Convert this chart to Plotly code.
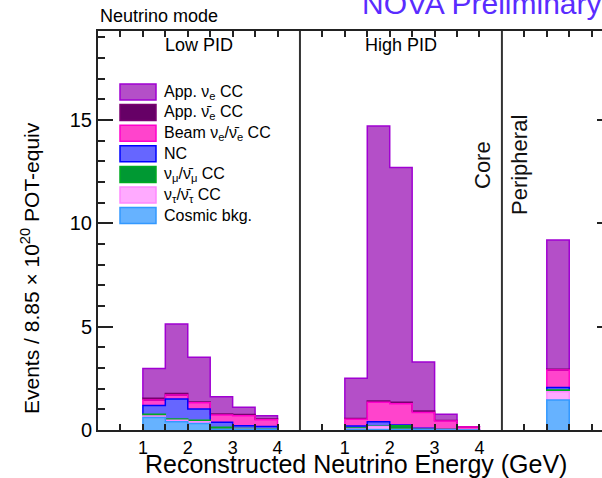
import plotly.graph_objects as go

# ---------------------------------------------------------------------------
# Binning (reconstructed energy, GeV) of each sample
# ---------------------------------------------------------------------------
low_edges = [1.0, 1.5, 2.0, 2.5, 3.0, 3.5, 4.0]
high_edges = [1.0, 1.5, 2.0, 2.5, 3.0, 3.5, 4.0]
periph_edges = [1.0, 1.5]

# offsets of the three samples on the concatenated horizontal axis
panel_offsets = [0.0, 4.5, 9.0]
panel_width = 4.5
x_max = 11.23
y_max = 19.3

# ---------------------------------------------------------------------------
# Predicted events per bin, one list per component (Low PID / High PID / Peripheral)
# ---------------------------------------------------------------------------
cosmic_low = [0.60, 0.40, 0.32, 0.02, 0.02, 0.02]
cosmic_high = [0.03, 0.02, 0.01, 0.01, 0.00, 0.00]
cosmic_periph = [1.45]

nutau_low = [0.08, 0.07, 0.08, 0.01, 0.02, 0.01]
nutau_high = [0.02, 0.14, 0.02, 0.01, 0.01, 0.00]
nutau_periph = [0.40]

numu_low = [0.08, 0.06, 0.07, 0.10, 0.03, 0.02]
numu_high = [0.05, 0.02, 0.17, 0.02, 0.01, 0.00]
numu_periph = [0.08]

nc_low = [0.42, 0.97, 0.55, 0.24, 0.14, 0.12]
nc_high = [0.09, 0.22, 0.04, 0.04, 0.01, 0.01]
nc_periph = [0.12]

beam_low = [0.27, 0.19, 0.30, 0.36, 0.48, 0.33]
beam_high = [0.33, 0.94, 1.03, 0.77, 0.41, 0.13]
beam_periph = [0.85]

anti_low = [0.08, 0.08, 0.04, 0.04, 0.06, 0.03]
anti_high = [0.04, 0.06, 0.07, 0.07, 0.02, 0.00]
anti_periph = [0.04]

app_low = [1.45, 3.36, 2.16, 0.84, 0.35, 0.16]
app_high = [1.94, 13.30, 11.36, 2.37, 0.30, 0.02]
app_periph = [6.25]

# stack order, bottom to top
stack = [
    ("Cosmic bkg.", "#66b2ff", "#3399ff", cosmic_low, cosmic_high, cosmic_periph),
    ("ν<sub>τ</sub>/ν̄<sub>τ</sub> CC", "#ffaaff", "#ff88ff", nutau_low, nutau_high, nutau_periph),
    ("ν<sub>μ</sub>/ν̄<sub>μ</sub> CC", "#009933", "#00aa22", numu_low, numu_high, numu_periph),
    ("NC", "#6666ff", "#0000ff", nc_low, nc_high, nc_periph),
    ("Beam ν<sub>e</sub>/ν̄<sub>e</sub> CC", "#ff44cc", "#ff00cc", beam_low, beam_high, beam_periph),
    ("App. ν̄<sub>e</sub> CC", "#660066", "#7a0070", anti_low, anti_high, anti_periph),
    ("App. ν<sub>e</sub> CC", "#b44fc8", "#a000d2", app_low, app_high, app_periph),
]

edges_per_panel = [low_edges, high_edges, periph_edges]

FONT = "Liberation Sans, Arial, Helvetica, sans-serif"

fig = go.Figure()

# cumulative heights of each layer, per panel
cum_bottom = [[0.0] * (len(e) - 1) for e in edges_per_panel]
layer_geom = []
for name, fill, edge, *panels in stack:
    xs, ys, bases = [], [], []
    tops_all = []
    for p, vals in enumerate(panels):
        edges = edges_per_panel[p]
        off = panel_offsets[p]
        for i, v in enumerate(vals):
            xs.append(off + 0.5 * (edges[i] + edges[i + 1]))
            ys.append(v)
            bases.append(cum_bottom[p][i])
        tops = [b + v for b, v in zip(cum_bottom[p], vals)]
        tops_all.append((list(cum_bottom[p]), tops))
        cum_bottom[p] = tops
    layer_geom.append((edge, tops_all))
    fig.add_trace(go.Bar(
        x=xs, y=ys, base=bases, width=0.5,
        marker=dict(color=fill, line=dict(width=0)),
        name=name, showlegend=False, hoverinfo="skip",
    ))

# step outlines: drawn from the top of the stack downwards so that
# lower components' edges stay visible
for edge, tops_all in reversed(layer_geom):
    lx, ly = [], []
    for p, (bots, tops) in enumerate(tops_all):
        edges = edges_per_panel[p]
        off = panel_offsets[p]
        lx.append(off + edges[0]); ly.append(bots[0])
        for i, t in enumerate(tops):
            lx += [off + edges[i], off + edges[i + 1]]
            ly += [t, t]
        lx.append(off + edges[-1]); ly.append(bots[-1])
        lx.append(None); ly.append(None)
    fig.add_trace(go.Scatter(
        x=lx, y=ly, mode="lines", line=dict(color=edge, width=1.5),
        showlegend=False, hoverinfo="skip", connectgaps=False,
    ))

# tick marks every 0.5 GeV inside each sample, labelled at whole GeV
tick_vals, tick_text = [], []
for p, off in enumerate(panel_offsets):
    e = 0.5
    while e < panel_width - 1e-6 and off + e < x_max:
        tick_vals.append(off + e)
        lab = ""
        if p < 2 and abs(e - round(e)) < 1e-6:
            lab = str(int(round(e)))
        tick_text.append(lab)
        e += 0.5

fig.update_layout(
    width=602, height=478,
    margin=dict(l=98, r=0, t=31, b=48),
    paper_bgcolor="white", plot_bgcolor="white",
    barmode="overlay", bargap=0,
    font=dict(family=FONT, color="black"),
    xaxis=dict(
        range=[0, x_max], tickvals=tick_vals, ticktext=tick_text,
        ticks="inside", ticklen=6, tickwidth=1.5, tickcolor="#222",
        showline=True, linewidth=2, linecolor="#222", mirror="ticks",
        showgrid=False, zeroline=False,
        tickfont=dict(size=18, family=FONT, color="black"),
    ),
    yaxis=dict(
        range=[0, y_max], tickvals=[0, 5, 10, 15],
        ticks="inside", ticklen=15, tickwidth=1.5, tickcolor="#222",
        minor=dict(dtick=1, ticks="inside", ticklen=7, tickwidth=1.5, tickcolor="#222"),
        showline=True, linewidth=2, linecolor="#222",
        showgrid=False, zeroline=False,
        tickfont=dict(size=20, family=FONT, color="black"),
    ),
    yaxis2=dict(
        overlaying="y", side="right", range=[0, y_max],
        tickvals=[5, 10, 15], ticks="inside", ticklen=5, tickwidth=1.5,
        tickcolor="#222", showticklabels=False, showline=False,
        showgrid=False, zeroline=False,
    ),
)

# invisible trace so the right-hand tick stubs are drawn
fig.add_trace(go.Scatter(x=[0], y=[0], yaxis="y2", mode="markers",
                         marker=dict(opacity=0), showlegend=False, hoverinfo="skip"))

# sample separators
for xd in panel_offsets[1:]:
    fig.add_shape(type="line", xref="x", yref="paper", x0=xd, x1=xd, y0=0, y1=1,
                  line=dict(color="#333", width=2))

# hand-built legend box
legend_order = list(reversed(stack))
for i, (name, fill, edge, *_) in enumerate(legend_order):
    yc = 92 + 20.6 * i
    y0 = (430 - (yc + 8)) / 399
    y1 = (430 - (yc - 8)) / 399
    fig.add_shape(type="rect", xref="paper", yref="paper",
                  x0=(120 - 98) / 504, x1=(156 - 98) / 504, y0=y0, y1=y1,
                  fillcolor=fill, line=dict(color=edge, width=1.5))
    fig.add_annotation(xref="paper", yref="paper", x=(162 - 98) / 504,
                       y=(430 - yc) / 399, text=name, showarrow=False,
                       xanchor="left", yanchor="middle",
                       font=dict(size=16, family=FONT, color="black"))


def label(x, y, text, size, xref="paper", angle=0, color="black", xanchor="center"):
    fig.add_annotation(xref=xref, yref="paper", x=x, y=y, text=text, showarrow=False,
                       xanchor=xanchor, yanchor="middle", textangle=angle,
                       font=dict(size=size, family=FONT, color=color))


# sample labels
label(panel_offsets[0] + panel_width / 2, (430 - 45) / 399, "Low PID", 18, xref="x")
label(panel_offsets[1] + panel_width / 2, (430 - 45) / 399, "High PID", 18, xref="x")
label((482 - 98) / 504, (430 - 165) / 399, "Core", 22, angle=-90, color="#111")
label((519 - 98) / 504, (430 - 165) / 399, "Peripheral", 22, angle=-90, color="#111")

# header texts
label(0, (430 - 16) / 399, "Neutrino mode", 18, xanchor="left")
label((360 - 98) / 504, (430 - 4) / 399, "NOVA Preliminary", 30, color="#5a2cff",
      xanchor="left")

# axis titles
label((356 - 98) / 504, (430 - 464) / 399, "Reconstructed Neutrino Energy (GeV)", 25)
label((30 - 98) / 504, (430 - 268) / 399,
      "Events / 8.85 × 10<sup>20</sup> POT-equiv", 21, angle=-90)

fig.write_html("out.html")
